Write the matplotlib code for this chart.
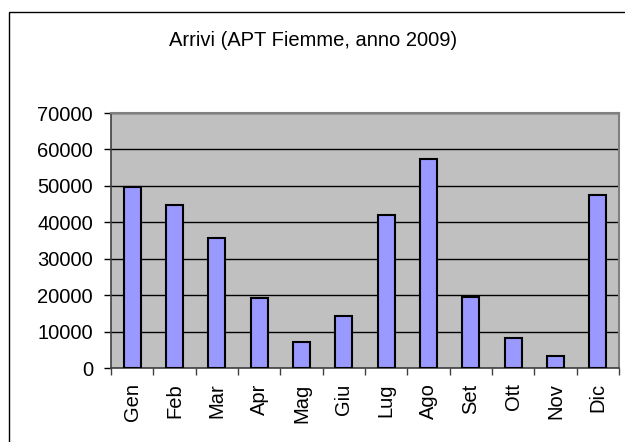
import matplotlib.pyplot as plt
import matplotlib.patches as patches
import numpy as np

# dati: arrivi mensili APT Fiemme 2009
mesi = ['Gen', 'Feb', 'Mar', 'Apr', 'Mag', 'Giu', 'Lug', 'Ago', 'Set', 'Ott', 'Nov', 'Dic']
arrivi = [49800, 44800, 35600, 19100, 7100, 14200, 42100, 57400, 19600, 8200, 3300, 47500]
y_ticks = [0, 10000, 20000, 30000, 40000, 50000, 60000, 70000]

plt.rcParams['font.family'] = ['Liberation Sans', 'DejaVu Sans']
FS = 14.5

fig = plt.figure(figsize=(6.25, 4.42), dpi=100)

# cornice esterna (tagliata a destra e in basso)
fig.patches.append(patches.Rectangle((9 / 625, -0.1), 1.2, 1 - 12 / 442 + 0.1,
                                     transform=fig.transFigure, fill=False,
                                     edgecolor='black', linewidth=1.0))

ax = fig.add_axes([111 / 625, 1 - 368 / 442, (619 - 111) / 625, (368 - 113) / 442])
ax.set_facecolor('#C0C0C0')

x = np.arange(len(mesi))
ax.bar(x, arrivi, width=0.4, color='#9999FF', edgecolor='black', linewidth=1.5, zorder=3)

ax.set_ylim(0, 70000)
ax.set_xlim(-0.5, len(mesi) - 0.5)
ax.set_yticks(y_ticks)
ax.set_yticklabels([str(v) for v in y_ticks], fontsize=FS)
ax.yaxis.grid(True, color='black', linewidth=1.0, zorder=1)
ax.set_axisbelow(True)

ax.set_xticks(x)
ax.set_xticklabels(mesi, rotation=90, fontsize=FS)
ax.set_xticks(np.arange(-0.5, len(mesi)), minor=True)
ax.tick_params(axis='x', which='major', length=0, pad=11)
ax.tick_params(axis='x', which='minor', length=5, color='#404040', width=1)
ax.tick_params(axis='y', length=5, width=1, pad=8)

ax.spines['left'].set_color('#404040')
ax.spines['bottom'].set_color('#404040')
ax.spines['left'].set_linewidth(1.2)
ax.spines['bottom'].set_linewidth(1.2)
ax.spines['top'].set_color('#808080')
ax.spines['right'].set_color('#808080')
ax.spines['top'].set_linewidth(1.5)
ax.spines['right'].set_linewidth(1.5)

fig.text(313 / 625, 1 - 41 / 442, 'Arrivi (APT Fiemme, anno 2009)', ha='center', va='center', fontsize=FS)

fig.savefig('out.png', dpi=100)
